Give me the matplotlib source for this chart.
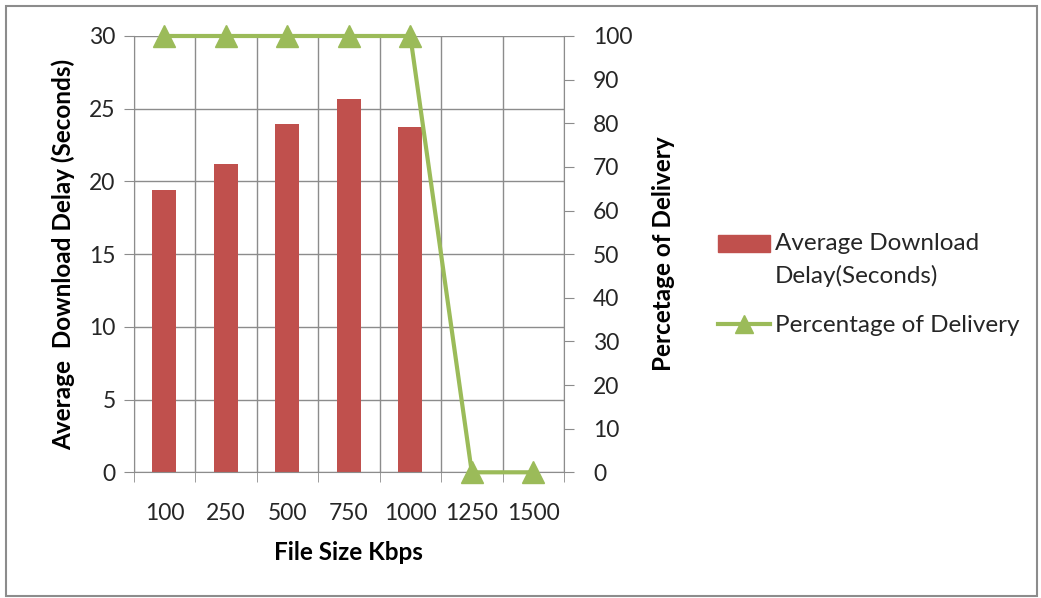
import numpy as np
import matplotlib
matplotlib.use('Agg')
from matplotlib import pyplot as plt
from matplotlib.patches import Rectangle
from matplotlib.legend_handler import HandlerPatch

plt.rcParams['font.family'] = ['Lato', 'DejaVu Sans']

file_sizes = ['100', '250', '500', '750', '1000', '1250', '1500']
avg_delay = [19.4, 21.2, 23.95, 25.7, 23.75, 0, 0]
pct_delivery = [100, 100, 100, 100, 100, 0, 0]

bar_color = '#C0504D'
line_color = '#9BBB59'
grid_color = '#8C8C8C'
text_color = '#262626'

fig = plt.figure(figsize=(10.41, 5.98), dpi=100)
ax = fig.add_axes([0.1284, 0.2102, 0.4134, 0.7296])
x = np.arange(len(file_sizes))

ax.bar(x, avg_delay, width=0.39, color=bar_color, zorder=2)
ax.set_xlim(-0.5, len(file_sizes) - 0.5)
ax.set_ylim(0, 30)
ax.set_yticks(np.arange(0, 31, 5))
ax.set_xticks(x)
ax.set_xticklabels(file_sizes)
ax.set_xticks(np.arange(-0.5, len(file_sizes)), minor=True)
ax.tick_params(axis='x', which='major', length=0, pad=22, labelsize=16.5, colors=text_color)
ax.tick_params(axis='x', which='minor', length=7, color=grid_color)
ax.tick_params(axis='y', length=7, color=grid_color, labelsize=16.5, colors=text_color, pad=6)
ax.grid(axis='y', color=grid_color, lw=1)
ax.grid(axis='x', which='minor', color=grid_color, lw=1)
ax.set_axisbelow(True)
for s in ['top', 'right']:
    ax.spines[s].set_visible(False)
for s in ['left', 'bottom']:
    ax.spines[s].set_color(grid_color)

ax.set_xlabel('File Size Kbps', fontsize=17.5, fontweight='bold', labelpad=12, color='black')
ax.set_ylabel('Average  Download Delay (Seconds)', fontsize=17.5, fontweight='bold',
              labelpad=10, color='black')

ax2 = ax.twinx()
ax2.plot(x, pct_delivery, color=line_color, lw=3, marker='^', markersize=16,
         clip_on=False, zorder=5)
ax2.set_ylim(0, 100)
ax2.set_yticks(np.arange(0, 101, 10))
ax2.tick_params(axis='y', length=7, color=grid_color, labelsize=16.5, colors=text_color, pad=14)
for s in ['top', 'left', 'bottom']:
    ax2.spines[s].set_visible(False)
ax2.spines['right'].set_color(grid_color)
ax2.set_ylabel('Percetage of Delivery', fontsize=17.5, fontweight='bold', labelpad=14)


# put the bar swatch next to the first line of its two-line label
def top_patch(legend, orig_handle, xdescent, ydescent, width, height, fontsize):
    return Rectangle((-xdescent, -ydescent + 12), width, height)


handles = [Rectangle((0, 0), 1, 1, color=bar_color),
           plt.Line2D([], [], color=line_color, lw=3, marker='^', markersize=13)]
leg = fig.legend(handles, ['Average Download\nDelay(Seconds)', 'Percentage of Delivery'],
                 loc='upper left', bbox_to_anchor=(0.6897, 0.61), frameon=False,
                 borderpad=0, borderaxespad=0,
                 fontsize=17.5, handlelength=2.15, handletextpad=0.2, labelspacing=1.15,
                 handler_map={Rectangle: HandlerPatch(patch_func=top_patch)})
for t in leg.get_texts():
    t.set_linespacing(1.6)
    t.set_color(text_color)

fig.patches.append(Rectangle((0.006, 0.003), 0.99, 0.987, transform=fig.transFigure,
                             fill=False, edgecolor='#8C8C8C', lw=1.5))

fig.savefig('out.png', dpi=100)
